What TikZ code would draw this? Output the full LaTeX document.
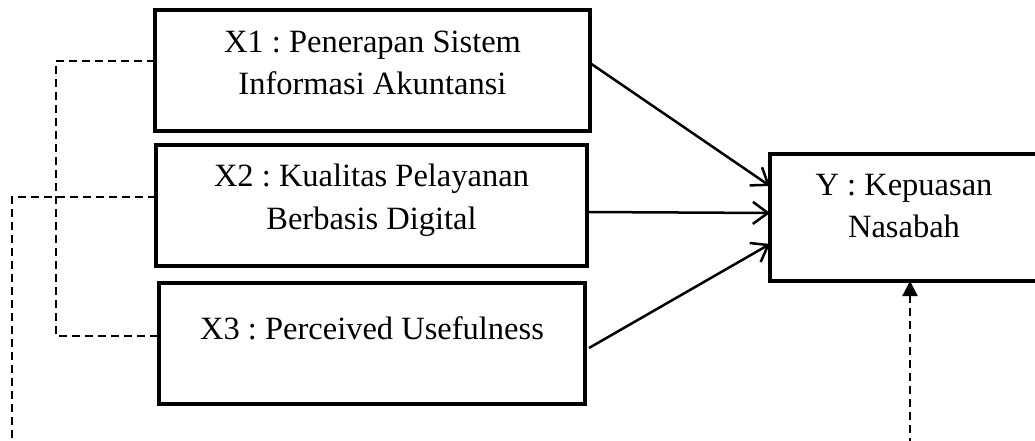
\documentclass[tikz,border=0pt]{standalone}
\usepackage{fontspec}
\setmainfont{Liberation Serif}
\usetikzlibrary{arrows.meta,calc}
\frenchspacing
\begin{document}
\begin{tikzpicture}[x=1pt,y=-1pt,
  box/.style={draw,line width=4.5pt,rectangle,inner sep=0pt,outer sep=0pt},
  lbl/.style={inner sep=0pt,align=center,anchor=base,font=\fontsize{32.5}{42.5}\selectfont},
  solidarr/.style={line width=2.5pt,-{Straight Barb[length=15pt,width=22pt,line width=2.5pt]}},
  dashline/.style={line width=2.3pt,dash pattern=on 8pt off 5pt},
  dasharr/.style={dashline,-{Triangle[length=15pt,width=15pt]}}]
\useasboundingbox (0,0) rectangle (1035,441);
\clip (0,0) rectangle (1035,441);
% boxes
\node[box,minimum width=435pt,minimum height=121pt] (x1) at (372.5,70.5) {};
\node[box,minimum width=431pt,minimum height=121pt] (x2) at (371.5,205.5) {};
\node[box,minimum width=426pt,minimum height=121pt] (x3) at (372,343.5) {};
\node[box,minimum width=268pt,minimum height=127pt] (y) at (904,217.5) {};
% texts (base = baseline of last line)
\node[lbl] (t1) at (372.5,95) {X1 : Penerapan Sistem\\Informasi Akuntansi};
\node[lbl] (t2) at (371.5,229) {X2 : Kualitas Pelayanan\\Berbasis Digital};
\node[lbl] (t3) at (372,339) {X3 : Perceived Usefulness};
\node[lbl] (ty) at (904,237.5) {Y : Kepuasan\\Nasabah};
% helper coordinates
\coordinate (d1) at (56,0);
\coordinate (d2) at (12,0);
\coordinate (bot) at (0,470);
% solid arrows
\draw[solidarr] ($(x1.east)+(0,-7.5)$) -- ($(y.west)+(0,-31.5)$);
\draw[solidarr] ($(x2.east)+(0,6.5)$) -- ($(y.west)+(0,-4.5)$);
\draw[solidarr] ($(x3.east)+(4,4.5)$) -- ($(y.west)+(0,26.5)$);
% dashed connectors
\draw[dashline] ($(x1.west)+(0,-9.5)$) coordinate (s1) -- (s1 -| d1) |- ($(x3.west)+(0,-7.5)$);
\draw[dasharr] ($(x2.west)+(0,-8.5)$) coordinate (s2) -- (s2 -| d2) |- ($(bot)+(910,0)$) -- ($(y.south)+(6,0)$);
\end{tikzpicture}
\end{document}
